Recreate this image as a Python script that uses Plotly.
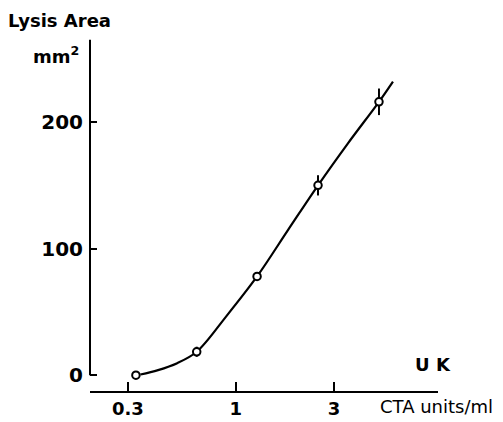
import plotly.graph_objects as go

# measured points (CTA units/ml vs lysis area mm^2)
conc = [0.328, 0.647, 1.27, 2.51, 4.96]
area = [0.0, 18.5, 78.0, 150.0, 216.0]
err = [0.0, 4.0, 3.0, 8.0, 10.5]

# fitted curve
curve_x = [0.345, 0.42, 0.52, 0.647, 0.9, 1.27, 1.8, 2.51, 3.5, 4.96, 5.8]
curve_y = [0.5, 4.0, 9.5, 18.5, 46.5, 78.0, 115.0, 150.0, 183.0, 216.0, 232.0]

x_ticks = [0.3, 1, 3]
x_tick_text = ["0.3", "1", "3"]
y_ticks = [0, 100, 200]

FONT = "DejaVu Sans"

fig = go.Figure()
fig.add_trace(go.Scatter(
    x=curve_x, y=curve_y, mode="lines",
    line=dict(color="black", width=2.2, shape="spline", smoothing=1.0),
    hoverinfo="skip", showlegend=False,
))
fig.add_trace(go.Scatter(
    x=conc, y=area, mode="markers",
    marker=dict(symbol="circle", size=7.5, color="white",
                line=dict(color="black", width=2)),
    error_y=dict(type="data", array=err, visible=True, width=0,
                 thickness=2, color="black"),
    showlegend=False,
))

fig.update_xaxes(
    type="log", range=[-0.707, 0.982], automargin=False,
    tickvals=x_ticks, ticktext=x_tick_text,
    ticks="inside", ticklen=9, tickwidth=2, tickcolor="black",
    showline=True, linecolor="black", linewidth=2,
    showgrid=False, zeroline=False,
    tickfont=dict(family=FONT, size=18, color="black", weight="bold"),
    ticklabelstandoff=0,
)
fig.update_yaxes(
    range=[-12.5, 268], automargin=False,
    tickvals=y_ticks,
    ticks="inside", ticklen=7, tickwidth=2, tickcolor="black",
    showline=False, showgrid=False, zeroline=False,
    tickfont=dict(family=FONT, size=20, color="black", weight="bold"),
    ticklabelstandoff=6,
)

# y axis line from 0 upward (separate from x axis)
fig.add_shape(type="line", xref="paper", yref="y",
              x0=0, x1=0, y0=0, y1=265,
              line=dict(color="black", width=2))

fig.add_annotation(text="Lysis Area", xref="paper", yref="paper",
                   x=-0.24, y=1.0, yshift=16, xanchor="left", yanchor="middle",
                   showarrow=False,
                   font=dict(family=FONT, size=18, color="black", weight="bold"))
fig.add_annotation(text="mm<sup>2</sup>", xref="paper", yref="paper",
                   x=-0.17, y=1.0, yshift=-19, xanchor="left", yanchor="middle",
                   showarrow=False,
                   font=dict(family=FONT, size=18, color="black", weight="bold"))
fig.add_annotation(text="U K", xref="paper", yref="paper",
                   x=0.985, y=0.075, xanchor="center", yanchor="middle",
                   showarrow=False,
                   font=dict(family=FONT, size=18, color="black", weight="bold"))
fig.add_annotation(text="CTA units/ml", xref="paper", yref="paper",
                   x=0.828, y=0, yshift=-15, xanchor="left", yanchor="middle",
                   showarrow=False,
                   font=dict(family=FONT, size=18, color="black"))

fig.update_layout(
    width=503, height=422,
    margin=dict(l=90, r=65, t=36, b=31, autoexpand=False),
    paper_bgcolor="white", plot_bgcolor="white",
)

fig.write_html("out.html", config={"displayModeBar": False},
               post_script="document.body.style.margin='0px';document.body.style.padding='0px';")
